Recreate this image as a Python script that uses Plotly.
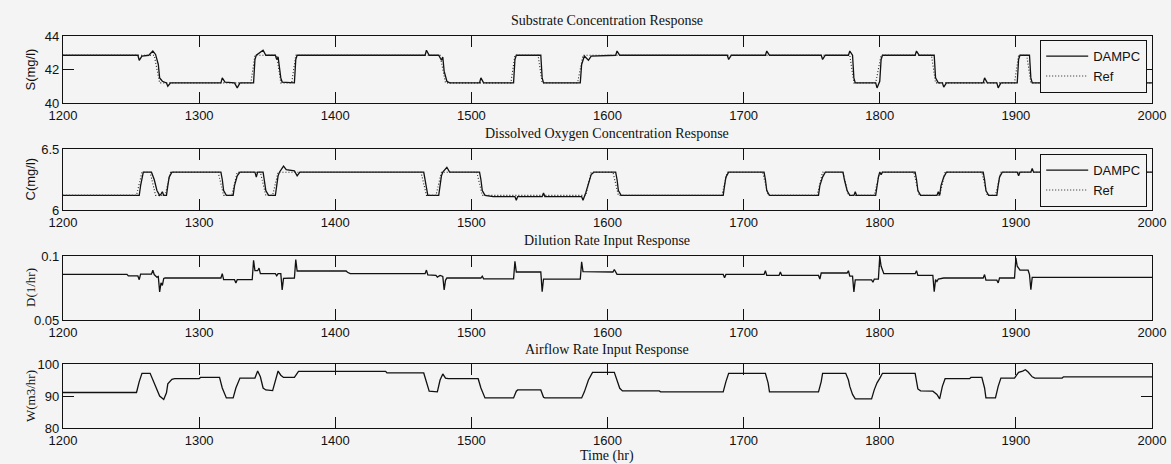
import plotly.graph_objects as go

# ---------------- data ----------------
s_time = [1200, 1255, 1256, 1258, 1263, 1266, 1268, 1270, 1271, 1273, 1276, 1277, 1279, 1316, 1317, 1319,
          1326, 1328, 1330, 1340, 1341, 1342, 1347, 1349, 1356, 1357, 1358, 1360, 1361, 1370, 1371, 1372,
          1466, 1467, 1469, 1476, 1478, 1479, 1480, 1482, 1484, 1506, 1507, 1509, 1531, 1532, 1533, 1551,
          1552, 1553, 1580, 1581, 1583, 1586, 1588, 1606, 1607, 1609, 1688, 1689, 1691, 1716, 1717, 1719,
          1757, 1758, 1760, 1777, 1778, 1780, 1781, 1782, 1797, 1798, 1800, 1801, 1802, 1826, 1827, 1829,
          1840, 1841, 1843, 1846, 1847, 1849, 1876, 1877, 1879, 1886, 1887, 1889, 1901, 1902, 1903, 1910,
          1911, 1912, 2000]
s_dampc = [42.85, 42.85, 42.55, 42.8, 42.85, 43.1, 42.9, 42.3, 41.5, 41.3, 41.2, 41.0, 41.2, 41.2, 41.5, 41.25,
           41.2, 40.9, 41.2, 41.2, 42.6, 42.85, 43.15, 42.85, 42.85, 42.6, 42.75, 41.5, 41.25, 41.2, 42.6, 42.85,
           42.85, 43.15, 42.85, 42.85, 42.55, 42.75, 41.9, 41.3, 41.2, 41.2, 41.5, 41.2, 41.2, 42.6, 42.85, 42.85,
           41.5, 41.2, 41.2, 42.3, 42.8, 42.55, 42.8, 42.85, 43.1, 42.85, 42.85, 42.6, 42.85, 42.85, 43.1, 42.85,
           42.85, 42.6, 42.85, 42.85, 43.1, 42.85, 41.5, 41.2, 41.2, 40.9, 41.3, 42.6, 42.85, 42.85, 43.1, 42.85,
           42.85, 41.5, 41.2, 41.2, 40.95, 41.2, 41.2, 41.5, 41.2, 41.2, 40.9, 41.2, 41.2, 42.6, 42.85, 42.85,
           41.5, 41.2, 41.2]
s_ref_time = [1200, 1267, 1271, 1338, 1341, 1357, 1360, 1368, 1371, 1477, 1481, 1529, 1532, 1549, 1552,
              1578, 1582, 1778, 1781, 1797, 1801, 1838, 1841, 1899, 1902, 1908, 1911, 2000]
s_ref = [42.85, 42.85, 41.2, 41.2, 42.85, 42.85, 41.2, 41.2, 42.85, 42.85, 41.2, 41.2, 42.85, 42.85, 41.2,
         41.2, 42.85, 42.85, 41.2, 41.2, 42.85, 42.85, 41.2, 41.2, 42.85, 42.85, 41.2, 41.2]

c_time = [1200, 1256, 1257, 1258, 1259, 1265, 1267, 1269, 1271, 1272, 1273, 1274, 1276, 1277, 1278, 1280,
          1316, 1317, 1318, 1320, 1325, 1326, 1328, 1330, 1341, 1342, 1343, 1347, 1348, 1349, 1351, 1356,
          1357, 1358, 1359, 1362, 1364, 1370, 1372, 1374, 1465, 1466, 1467, 1468, 1476, 1477, 1478, 1479,
          1482, 1484, 1506, 1507, 1508, 1510, 1516, 1532, 1533, 1534, 1552, 1553, 1554, 1581, 1582, 1584,
          1586, 1588, 1590, 1606, 1607, 1608, 1610, 1685, 1686, 1687, 1689, 1715, 1716, 1717, 1719, 1755,
          1756, 1758, 1760, 1773, 1774, 1776, 1778, 1781, 1782, 1783, 1797, 1798, 1799, 1800, 1801, 1802,
          1826, 1827, 1828, 1830, 1842, 1843, 1844, 1845, 1847, 1849, 1876, 1877, 1878, 1880, 1886, 1887,
          1888, 1890, 1901, 1902, 1903, 1911, 1912, 1913, 2000]
c_dampc = [6.12, 6.12, 6.2, 6.27, 6.31, 6.31, 6.25, 6.16, 6.12, 6.13, 6.15, 6.12, 6.12, 6.2, 6.27, 6.31,
           6.31, 6.25, 6.16, 6.12, 6.12, 6.2, 6.28, 6.31, 6.31, 6.27, 6.31, 6.31, 6.25, 6.16, 6.12, 6.12,
           6.2, 6.28, 6.31, 6.36, 6.33, 6.32, 6.28, 6.31, 6.31, 6.25, 6.16, 6.12, 6.12, 6.2, 6.28, 6.31,
           6.35, 6.31, 6.31, 6.25, 6.16, 6.12, 6.11, 6.11, 6.08, 6.11, 6.11, 6.14, 6.11, 6.11, 6.08, 6.14,
           6.22, 6.29, 6.31, 6.31, 6.25, 6.16, 6.12, 6.12, 6.2, 6.27, 6.31, 6.31, 6.25, 6.16, 6.12, 6.12,
           6.2, 6.27, 6.31, 6.31, 6.25, 6.16, 6.12, 6.12, 6.15, 6.12, 6.12, 6.2, 6.27, 6.31, 6.29, 6.31,
           6.31, 6.25, 6.16, 6.12, 6.12, 6.15, 6.12, 6.2, 6.27, 6.31, 6.31, 6.25, 6.16, 6.12, 6.12, 6.2,
           6.27, 6.31, 6.31, 6.28, 6.31, 6.31, 6.34, 6.31, 6.31]
c_ref_time = [1200, 1254, 1258, 1264, 1268, 1275, 1279, 1314, 1318, 1324, 1328, 1345, 1349, 1354, 1358,
              1463, 1467, 1474, 1478, 1504, 1508, 1584, 1588, 1604, 1608, 1684, 1688, 1714, 1718, 1754,
              1758, 1773, 1777, 1796, 1800, 1825, 1829, 1844, 1848, 1875, 1879, 1885, 1889, 2000]
c_ref = [6.12, 6.12, 6.31, 6.31, 6.12, 6.12, 6.31, 6.31, 6.12, 6.12, 6.31, 6.31, 6.12, 6.12, 6.31,
         6.31, 6.12, 6.12, 6.31, 6.31, 6.12, 6.12, 6.31, 6.31, 6.12, 6.12, 6.31, 6.31, 6.12, 6.12,
         6.31, 6.31, 6.12, 6.12, 6.31, 6.31, 6.12, 6.12, 6.31, 6.31, 6.12, 6.12, 6.31, 6.31]

d_time = [1200, 1247, 1248, 1255, 1256, 1257, 1265, 1266, 1267, 1269, 1270, 1271, 1272, 1273, 1274, 1275,
          1316, 1317, 1318, 1326, 1327, 1328, 1339, 1340, 1341, 1343, 1344, 1345, 1356, 1357, 1358, 1360,
          1361, 1362, 1370, 1371, 1372, 1408, 1409, 1411, 1466, 1467, 1468, 1474, 1475, 1477, 1479, 1480,
          1481, 1482, 1507, 1508, 1509, 1531, 1532, 1533, 1551, 1552, 1553, 1580, 1581, 1582, 1604, 1605,
          1607, 1685, 1686, 1687, 1715, 1716, 1717, 1726, 1727, 1728, 1755, 1756, 1757, 1776, 1777, 1778,
          1780, 1781, 1782, 1794, 1795, 1796, 1799, 1800, 1801, 1803, 1826, 1827, 1828, 1839, 1840, 1841,
          1842, 1843, 1847, 1876, 1877, 1878, 1886, 1887, 1888, 1899, 1900, 1901, 1903, 1909, 1910, 1911,
          1912, 2000]
d_dampc = [0.0856, 0.0856, 0.0844, 0.0844, 0.0815, 0.0858, 0.0858, 0.089, 0.0855, 0.0835, 0.084, 0.072,
           0.079, 0.077, 0.0825, 0.0828, 0.0828, 0.0862, 0.0815, 0.0815, 0.079, 0.0815, 0.0815, 0.0967,
           0.0885, 0.0885, 0.0905, 0.0862, 0.0862, 0.0845, 0.0862, 0.0862, 0.0735, 0.0825, 0.0828, 0.0972,
           0.0883, 0.0883, 0.0873, 0.0862, 0.0862, 0.089, 0.0852, 0.0848, 0.0835, 0.0848, 0.084, 0.0735,
           0.081, 0.0828, 0.0828, 0.0842, 0.0822, 0.0822, 0.0958, 0.0875, 0.0875, 0.0722, 0.082, 0.082,
           0.0955, 0.0878, 0.0875, 0.0895, 0.0856, 0.0856, 0.083, 0.0856, 0.0856, 0.0885, 0.0848, 0.0848,
           0.0875, 0.0848, 0.0848, 0.082, 0.0867, 0.0867, 0.0885, 0.0842, 0.0842, 0.072, 0.0814, 0.0814,
           0.0795, 0.082, 0.082, 0.0995, 0.092, 0.0862, 0.0862, 0.0885, 0.0848, 0.0848, 0.0722, 0.0815,
           0.08, 0.082, 0.0828, 0.0828, 0.0855, 0.0811, 0.0811, 0.079, 0.0828, 0.0828, 0.0985, 0.092,
           0.0889, 0.0889, 0.0855, 0.0736, 0.0833, 0.0833]

w_time = [1200, 1254, 1256, 1258, 1264, 1266, 1268, 1271, 1274, 1276, 1277, 1280, 1282, 1300, 1301, 1315,
          1317, 1320, 1325, 1327, 1330, 1341, 1343, 1345, 1347, 1349, 1354, 1356, 1358, 1360, 1362, 1370,
          1372, 1373, 1437, 1438, 1465, 1467, 1469, 1475, 1477, 1479, 1481, 1483, 1505, 1507, 1510, 1531,
          1533, 1534, 1551, 1553, 1554, 1581, 1583, 1586, 1589, 1605, 1607, 1609, 1611, 1638, 1639, 1685,
          1687, 1689, 1716, 1718, 1719, 1755, 1757, 1758, 1775, 1777, 1778, 1780, 1782, 1794, 1796, 1798,
          1800, 1802, 1826, 1828, 1830, 1839, 1842, 1844, 1846, 1848, 1866, 1867, 1875, 1877, 1878, 1885,
          1887, 1889, 1899, 1902, 1905, 1907, 1909, 1912, 1914, 1934, 1935, 2000]
w_dampc = [91.1, 91.1, 94.5, 97.1, 97.1, 95.0, 92.7, 90.0, 88.9, 91.0, 93.8, 95.2, 95.4, 95.4, 95.8, 95.8,
           92.5, 89.4, 89.4, 92.5, 95.6, 95.6, 97.8, 96.0, 92.5, 91.9, 91.7, 94.5, 97.8, 96.5, 95.8, 95.8,
           97.3, 97.7, 97.7, 97.2, 97.2, 94.0, 91.5, 91.3, 95.0, 96.9, 95.6, 95.4, 95.4, 92.5, 89.4, 89.4,
           91.5, 91.9, 91.9, 89.6, 89.4, 89.4, 91.3, 95.0, 97.4, 97.4, 95.0, 92.4, 91.6, 91.6, 91.3, 91.3,
           94.5, 97.1, 97.1, 94.0, 91.3, 91.3, 94.5, 97.1, 97.1, 95.0, 93.0, 90.5, 89.1, 89.1, 92.0, 94.1,
           95.5, 97.1, 97.1, 92.2, 91.6, 91.5, 90.5, 89.1, 93.0, 95.4, 95.4, 95.8, 95.8, 92.5, 89.4, 89.4,
           93.0, 95.6, 95.6, 97.4, 97.8, 98.2, 97.5, 96.0, 95.6, 95.6, 96.0, 96.0]

x_ticks = [1200, 1300, 1400, 1500, 1600, 1700, 1800, 1900, 2000]
titles = ["Substrate Concentration Response", "Dissolved Oxygen Concentration Response",
          "Dilution Rate Input Response", "Airflow Rate Input Response"]
y_labels = ["S(mg/l)", "C(mg/l)", "D(1/hr)", "W(m3/hr)"]
y_ranges = [[40, 44], [6, 6.5], [0.05, 0.1], [80, 100]]
y_ticks = [[40, 42, 44], [6, 6.5], [0.05, 0.1], [80, 90, 100]]
y_ticktext = [["40", "42", "44"], ["6", "6.5"], ["0.05", "0.1"], ["80", "90", "100"]]

# ---------------- layout ----------------
W, H = 1171, 464
BG = "#f4f4f4"
x0, x1 = 63, 1152
boxes = [(36, 103), (149, 210), (256, 320), (364, 428)]  # top, bottom px
title_gap = [16, 16, 16, 15]

SANS = "Liberation Sans, Arial, sans-serif"
SERIF = "Liberation Serif, Times New Roman, serif"

fig = go.Figure()

line_solid = dict(color="#111111", width=1.3)
line_dot = dict(color="#222222", width=1.1, dash="1px,2px")

fig.add_trace(go.Scatter(x=s_time, y=s_dampc, mode="lines", line=line_solid, name="DAMPC",
                         xaxis="x", yaxis="y", legend="legend"))
fig.add_trace(go.Scatter(x=s_ref_time, y=s_ref, mode="lines", line=line_dot, name="Ref",
                         xaxis="x", yaxis="y", legend="legend"))
fig.add_trace(go.Scatter(x=c_time, y=c_dampc, mode="lines", line=line_solid, name="DAMPC",
                         xaxis="x2", yaxis="y2", legend="legend2"))
fig.add_trace(go.Scatter(x=c_ref_time, y=c_ref, mode="lines", line=line_dot, name="Ref",
                         xaxis="x2", yaxis="y2", legend="legend2"))
fig.add_trace(go.Scatter(x=d_time, y=d_dampc, mode="lines", line=line_solid, showlegend=False,
                         xaxis="x3", yaxis="y3"))
fig.add_trace(go.Scatter(x=w_time, y=w_dampc, mode="lines", line=line_solid, showlegend=False,
                         xaxis="x4", yaxis="y4"))

layout = dict(width=W, height=H, margin=dict(l=0, r=0, t=0, b=0, pad=0, autoexpand=False),
              paper_bgcolor=BG, plot_bgcolor=BG, font=dict(family=SANS, color="#111111"))

annotations = []
for i, (top, bot) in enumerate(boxes):
    k = "" if i == 0 else str(i + 1)
    dom_y = [1 - bot / H, 1 - top / H]
    layout["xaxis" + k] = dict(domain=[x0 / W, x1 / W], range=[1200, 2000], tickvals=x_ticks,
                               ticks="inside", ticklen=11, tickwidth=1.2, tickcolor="#111111",
                               showline=True, linecolor="#111111", linewidth=1.2, mirror="ticks",
                               showgrid=False, zeroline=False, anchor="y" + k, automargin=False,
                               tickfont=dict(family=SANS, size=13, color="#111111"))
    layout["yaxis" + k] = dict(domain=dom_y, range=y_ranges[i], tickvals=y_ticks[i],
                               ticktext=y_ticktext[i], automargin=False,
                               ticks="inside", ticklen=11, tickwidth=1.2, tickcolor="#111111",
                               showline=True, linecolor="#111111", linewidth=1.2, mirror="ticks",
                               showgrid=False, zeroline=False, anchor="x" + k,
                               tickfont=dict(family=SANS, size=13, color="#111111"))
    annotations.append(dict(text=titles[i], x=(x0 + x1) / 2 / W, y=1 - (top - title_gap[i]) / H,
                            xref="paper", yref="paper", showarrow=False,
                            font=dict(family=SERIF, size=14, color="#111111"),
                            xanchor="center", yanchor="middle"))
    annotations.append(dict(text=y_labels[i], x=30 / W, y=1 - ((top + bot) / 2) / H,
                            xref="paper", yref="paper", showarrow=False, textangle=-90,
                            font=dict(family=SANS if i < 2 else SERIF, size=13, color="#111111"),
                            xanchor="center", yanchor="middle"))

annotations.append(dict(text="Time (hr)", x=(x0 + x1) / 2 / W, y=1 - 456 / H, xref="paper", yref="paper",
                        showarrow=False, font=dict(family=SERIF, size=14, color="#111111"),
                        xanchor="center", yanchor="middle"))
layout["annotations"] = annotations

leg_common = dict(xref="paper", yref="paper", xanchor="right", yanchor="top",
                  bgcolor=BG, bordercolor="#111111", borderwidth=1.2, itemwidth=42,
                  font=dict(family=SANS, size=13, color="#111111"), tracegroupgap=0)
layout["legend"] = dict(x=1147 / W, y=1 - 40 / H, **leg_common)
layout["legend2"] = dict(x=1147 / W, y=1 - 154 / H, **leg_common)

fig.update_layout(**layout)
fig.write_html("out.html", config={"displayModeBar": False},
               post_script="document.body.style.margin='0';document.body.style.overflow='hidden';")
